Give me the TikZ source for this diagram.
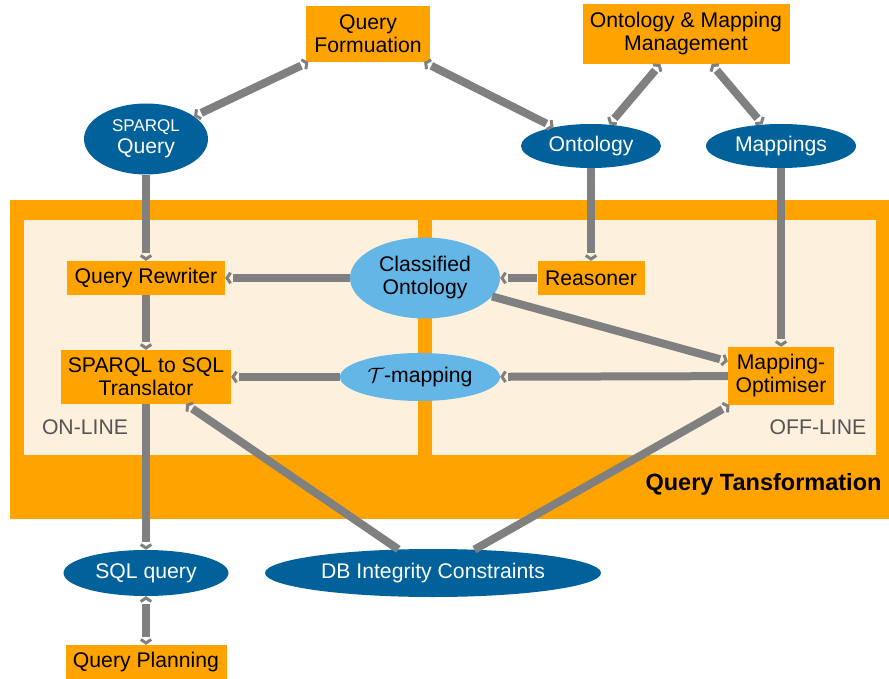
\documentclass[tikz,border=0pt]{standalone}
\usepackage{fontspec}
\setmainfont{Liberation Sans}
\usetikzlibrary{arrows.meta,shapes.geometric,decorations.markings}
\definecolor{qorange}{HTML}{FFA300}
\definecolor{qpale}{HTML}{FDF0DC}
\definecolor{qdark}{HTML}{00619B}
\definecolor{qlight}{HTML}{64B6E6}
\definecolor{qgray}{HTML}{808080}
\definecolor{qtext}{HTML}{555555}

\begin{document}
\begin{tikzpicture}[x=1pt,y=-1pt,
    font=\fontsize{21.2}{23}\selectfont,
    box/.style={fill=qorange,inner sep=0pt,align=center},
    dark/.style={ellipse,fill=qdark,text=white,inner sep=0pt,align=center},
    light/.style={ellipse,fill=qlight,inner sep=0pt,align=center},
    endtip/.style={postaction={decorate,decoration={markings,
        mark=at position 1 with {\arrow[qgray,line width=3pt]{Straight Barb[length=3.5pt,width=10.5pt]}}}}},
    starttip/.style={postaction={decorate,decoration={markings,
        mark=at position 0 with {\arrowreversed[qgray,line width=3pt]{Straight Barb[length=3.5pt,width=10.5pt]}}}}},
    link/.style={draw=qgray,line width=8pt,shorten >=8pt,endtip},
    link2/.style={draw=qgray,line width=8pt,shorten >=8pt,shorten <=8pt,endtip,starttip}]

    \useasboundingbox (0,0) rectangle (889,679);

    \fill[qorange] (10,200) rectangle (889,519);
    \fill[qpale] (24,220) rectangle (418,455);
    \fill[qpale] (432,220) rectangle (876,455);
    \node[text=qtext] (online) at (85,427) {ON-LINE};
    \node[text=qtext] (offline) at (818,427) {OFF-LINE};
    \node[anchor=east,font=\fontsize{23.5}{26}\selectfont\bfseries] (qtrans) at (885,484) {Query Tansformation};

    \node[box,minimum width=124,minimum height=56] (qform) at (368,34) {Query\\Formuation};
    \node[box,minimum width=207,minimum height=60] (omm) at (686,34) {Ontology \& Mapping\\Management};
    \node[dark,minimum width=124,minimum height=71] (sparql) at (146,139) {{\fontsize{17}{21}\selectfont SPARQL}\\[-1pt]Query};
    \node[dark,minimum width=140,minimum height=44] (onto) at (591,146) {Ontology};
    \node[dark,minimum width=150,minimum height=44] (maps) at (781,146) {Mappings};

    \node[box,minimum width=158,minimum height=34] (rewriter) at (146,278) {Query Rewriter};
    \node[light,minimum width=150,minimum height=81] (classonto) at (425,278) {Classified\\Ontology};
    \node[box,minimum width=107,minimum height=34] (reasoner) at (591,278) {Reasoner};
    \node[box,minimum width=170,minimum height=54] (translator) at (146,377) {SPARQL to SQL\\Translator};
    \node[light,minimum width=160,minimum height=48] (tmap) at (420,377) {$\mathcal{T}$-mapping};
    \node[box,minimum width=106,minimum height=58] (mapopt) at (781,376) {Mapping-\\Optimiser};

    \node[dark,minimum width=165,minimum height=46] (sqlq) at (146,573) {SQL query};
    \node[dark,minimum width=336,minimum height=48] (dbic) at (433,573) {DB Integrity Constraints};
    \node[box,minimum width=161,minimum height=34] (qplan) at (146,662) {Query Planning};

    \draw[link2] (sparql) -- (qform);
    \draw[link2] (qform) -- (onto);
    \draw[link2] (omm) -- (onto);
    \draw[link2] (omm) -- (maps);
    \draw[link] (sparql) -- (rewriter);
    \draw[link] (onto) -- (reasoner);
    \draw[link] (reasoner) -- (classonto);
    \draw[link] (classonto) -- (rewriter);
    \draw[link] (classonto) -- (mapopt);
    \draw[link] (maps) -- (mapopt);
    \draw[link] (mapopt) -- (tmap);
    \draw[link] (tmap) -- (translator);
    \draw[link] (rewriter) -- (translator);
    \draw[link] (translator) -- (sqlq);
    \draw[link2] (sqlq) -- (qplan);
    \draw[link] (dbic) -- (translator);
    \draw[link] (dbic) -- (mapopt);

\end{tikzpicture}
\end{document}
